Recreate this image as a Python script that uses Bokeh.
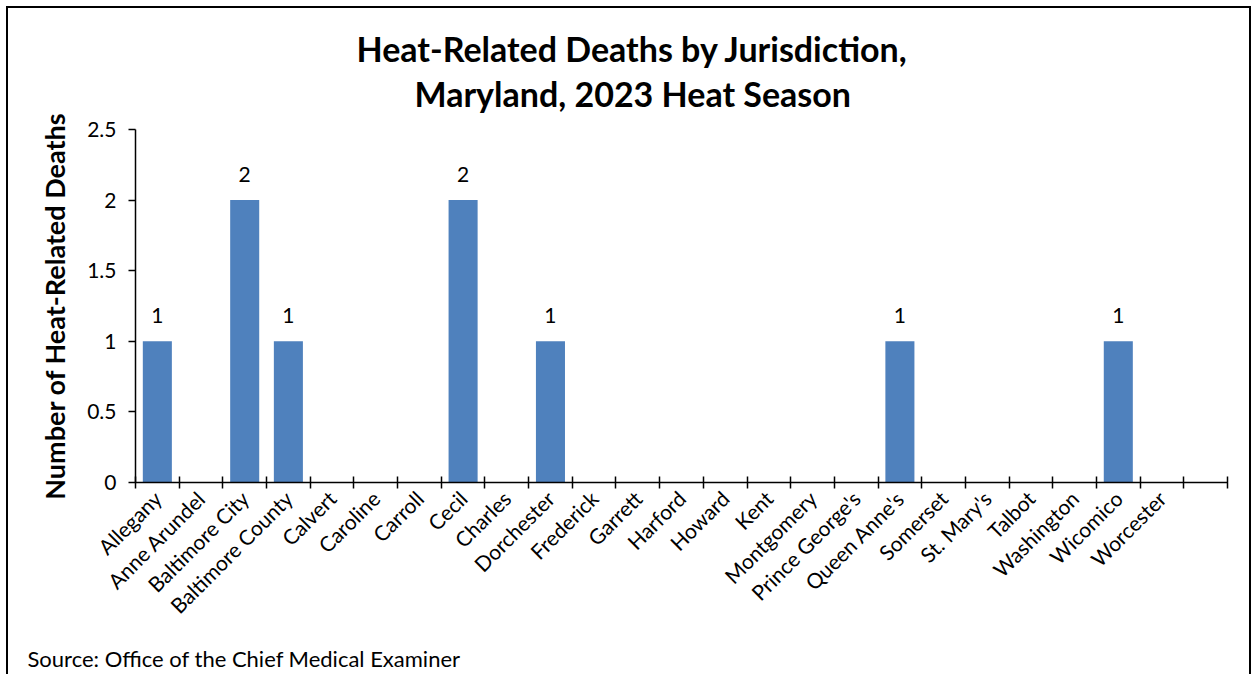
import math
from bokeh.plotting import figure
from bokeh.models import (Range1d, FixedTicker, ColumnDataSource, LabelSet, Title)
from bokeh.core.properties import value
from bokeh.embed import file_html
from bokeh.resources import INLINE

# ---- data ----
jurisdictions = ["Allegany", "Anne Arundel", "Baltimore City", "Baltimore County",
                 "Calvert", "Caroline", "Carroll", "Cecil", "Charles", "Dorchester",
                 "Frederick", "Garrett", "Harford", "Howard", "Kent", "Montgomery",
                 "Prince George's", "Queen Anne's", "Somerset", "St. Mary's", "Talbot",
                 "Washington", "Wicomico", "Worcester", ""]
deaths = [1, 0, 2, 1, 0, 0, 0, 2, 0, 1, 0, 0, 0, 0, 0, 0, 0, 1, 0, 0, 0, 0, 1, 0, 0]
y_ticks = [0, 0.5, 1, 1.5, 2, 2.5]

title_lines = ["Heat-Related Deaths by Jurisdiction,", "Maryland, 2023 Heat Season"]
source_text = "Source: Office of the Chief Medical Examiner"
y_label = "Number of Heat-Related Deaths"

FONT = "Lato"
BAR = "#4F81BD"

n = len(jurisdictions)
centers = [i + 0.5 for i in range(n)]
bounds = [float(i) for i in range(n + 1)]

src = ColumnDataSource(dict(
    x=centers,
    top=deaths,
    lab=[str(v) if v > 0 else "" for v in deaths],
))

W, H = 1245, 668
p = figure(width=W, height=H, output_backend="svg", toolbar_location=None,
           x_range=Range1d(0, n), y_range=Range1d(0, 2.5),
           min_border_left=127, min_border_right=26,
           min_border_top=121, min_border_bottom=194)
p.styles = {"margin-left": "6px", "margin-top": "6px",
            "border-top": "2px solid black", "border-left": "2px solid black",
            "border-right": "2px solid black"}
p.outline_line_color = None
p.xgrid.visible = False
p.ygrid.visible = False
p.background_fill_color = "white"
p.border_fill_color = "white"

p.vbar(x="x", top="top", width=0.665, color=BAR, line_color=None, source=src)

p.add_layout(LabelSet(x="x", y="top", text="lab", source=src, text_align="center",
                      text_baseline="alphabetic", y_offset=18,
                      text_font=value(FONT), text_font_size="21px", text_color="black"))

# x axis
xa = p.xaxis[0]
xa.ticker = FixedTicker(ticks=centers, minor_ticks=bounds)
xa.major_label_overrides = {c: name for c, name in zip(centers, jurisdictions)}
xa.major_tick_line_color = None
xa.minor_tick_in = 6
xa.minor_tick_out = 6
xa.minor_tick_line_color = "black"
xa.minor_tick_line_width = 1.5
xa.axis_line_color = "black"
xa.axis_line_width = 1.5
xa.major_label_orientation = math.pi / 4
xa.major_label_text_font = FONT
xa.major_label_text_font_size = "21px"
xa.major_label_text_color = "black"
xa.major_label_standoff = 6

# y axis
ya = p.yaxis[0]
ya.ticker = FixedTicker(ticks=y_ticks, minor_ticks=[])
ya.major_label_overrides = {t: f"{t:g}" for t in y_ticks}
ya.major_tick_in = 0
ya.major_tick_out = 7
ya.major_tick_line_color = "black"
ya.major_tick_line_width = 1.5
ya.axis_line_color = "black"
ya.axis_line_width = 1.5
ya.major_label_text_font = FONT
ya.major_label_text_font_size = "21px"
ya.major_label_text_color = "black"
ya.major_label_standoff = 12
ya.axis_label = y_label
ya.axis_label_text_font = FONT
ya.axis_label_text_font_style = "bold"
ya.axis_label_text_font_size = "27px"
ya.axis_label_text_color = "black"
ya.axis_label_standoff = 13

# titles (first added sits closest to the frame)
p.add_layout(Title(text=title_lines[1], align="left", offset=279, standoff=31,
                   text_font=FONT, text_font_style="bold", text_font_size="34px",
                   text_color="black"), "above")
p.add_layout(Title(text=title_lines[0], align="left", offset=221, standoff=-26,
                   text_font=FONT, text_font_style="bold", text_font_size="34px",
                   text_color="black"), "above")

# spacer below the axis, then the source note
p.add_layout(Title(text=" ", align="left", standoff=6, text_font=FONT,
                   text_font_size="1px", text_color="white"), "below")
p.add_layout(Title(text=source_text, align="left", offset=-108, standoff=8,
                   text_font=FONT, text_font_style="normal", text_font_size="22px",
                   text_color="black"), "below")

open("out.html", "w").write(file_html(p, INLINE))
